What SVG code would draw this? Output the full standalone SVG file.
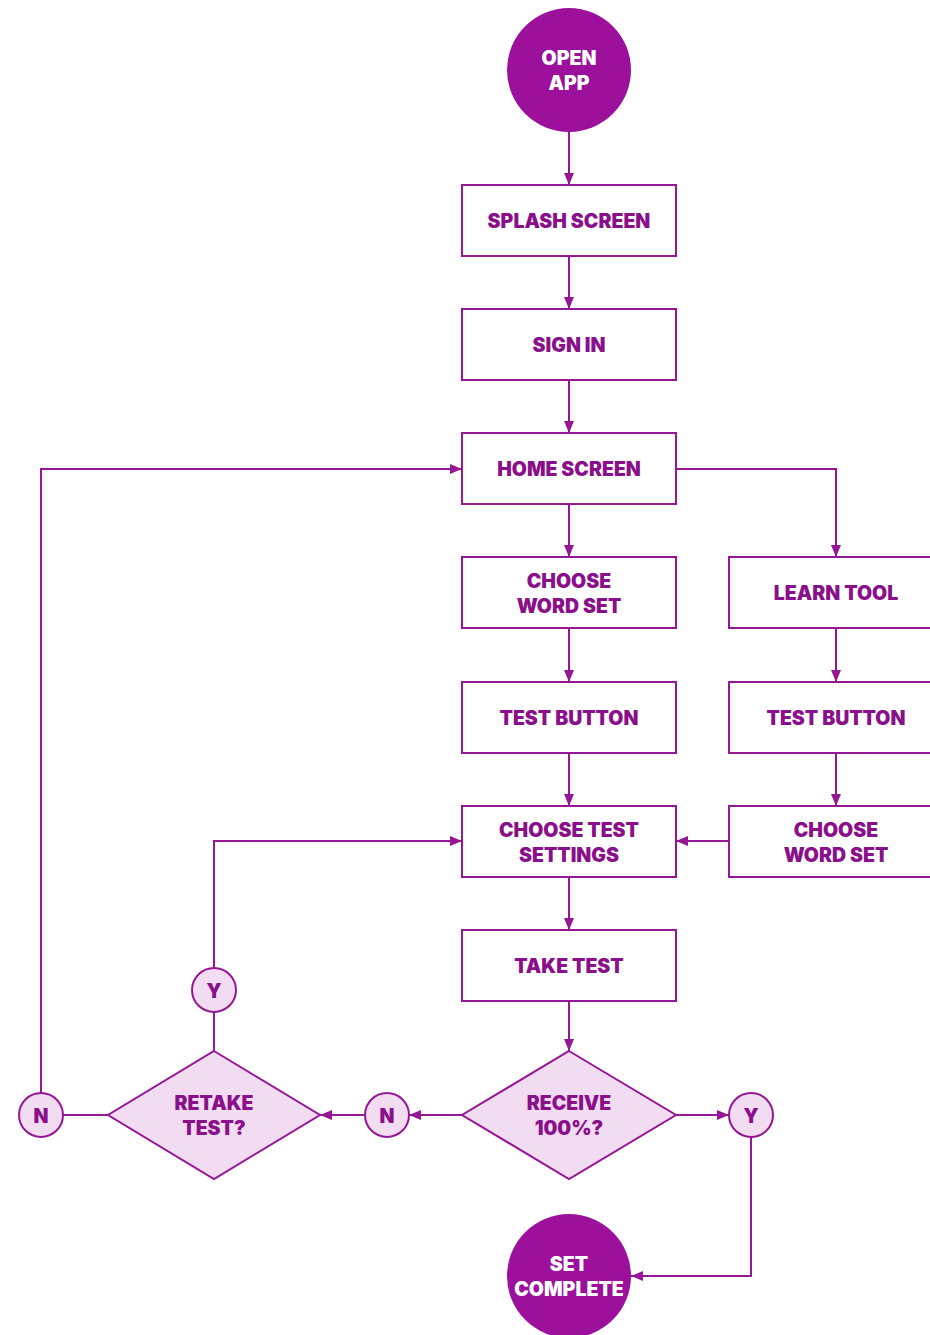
<svg xmlns="http://www.w3.org/2000/svg" width="930" height="1335" viewBox="0 0 930 1335">
<defs>
<marker id="arr" viewBox="0 0 12 10" refX="12" refY="5" markerWidth="12" markerHeight="10" markerUnits="userSpaceOnUse" orient="auto">
<path d="M0,0 L12,5 L0,10 z" fill="#951795"/>
</marker>
<style>
.box{fill:#ffffff;stroke:#951795;stroke-width:2}
.dia{fill:#f1dcf1;stroke:#951795;stroke-width:2}
.term{fill:#9c109c}
.sm{fill:#f1dcf1;stroke:#951795;stroke-width:2}
.t{font-family:Inter,"Open Sans",sans-serif;font-weight:900;font-size:19.5px;fill:#8a0f8a;text-anchor:middle;dominant-baseline:central;letter-spacing:0px}
.tw{fill:#ffffff}
.c{fill:none;stroke:#951795;stroke-width:2}
</style>
</defs>
<rect width="930" height="1335" fill="#ffffff"/>
<g id="connectors">
<path class="c" d="M569,132 V185" marker-end="url(#arr)"/>
<path class="c" d="M569,256 V309" marker-end="url(#arr)"/>
<path class="c" d="M569,380 V433" marker-end="url(#arr)"/>
<path class="c" d="M569,504 V557" marker-end="url(#arr)"/>
<path class="c" d="M569,628 V682" marker-end="url(#arr)"/>
<path class="c" d="M569,753 V806" marker-end="url(#arr)"/>
<path class="c" d="M569,877 V930" marker-end="url(#arr)"/>
<path class="c" d="M569,1001 V1051" marker-end="url(#arr)"/>
<path class="c" d="M676,469 H836 V557" marker-end="url(#arr)"/>
<path class="c" d="M836,628 V682" marker-end="url(#arr)"/>
<path class="c" d="M836,753 V806" marker-end="url(#arr)"/>
<path class="c" d="M729,841 H676" marker-end="url(#arr)"/>
<path class="c" d="M462,1115 H409" marker-end="url(#arr)"/>
<path class="c" d="M365,1115 H320" marker-end="url(#arr)"/>
<path class="c" d="M676,1115 H729" marker-end="url(#arr)"/>
<path class="c" d="M751,1137 V1276 H631" marker-end="url(#arr)"/>
<path class="c" d="M214,1051 V1012"/>
<path class="c" d="M214,968 V841 H462" marker-end="url(#arr)"/>
<path class="c" d="M108,1115 H63"/>
<path class="c" d="M41,1093 V469 H462" marker-end="url(#arr)"/>
</g>
<g id="open-app">
<circle class="term" cx="569" cy="70" r="62"/>
<text class="t tw" x="569" y="58">OPEN</text>
<text class="t tw" x="569" y="83">APP</text>
</g>
<g id="splash-screen">
<rect class="box" x="462" y="185" width="214" height="71"/>
<text class="t" x="569" y="221">SPLASH SCREEN</text>
</g>
<g id="sign-in">
<rect class="box" x="462" y="309" width="214" height="71"/>
<text class="t" x="569" y="345">SIGN IN</text>
</g>
<g id="home-screen">
<rect class="box" x="462" y="433" width="214" height="71"/>
<text class="t" x="569" y="469">HOME SCREEN</text>
</g>
<g id="choose-word-set-1">
<rect class="box" x="462" y="557" width="214" height="71"/>
<text class="t" x="569" y="581">CHOOSE</text>
<text class="t" x="569" y="606">WORD SET</text>
</g>
<g id="learn-tool">
<rect class="box" x="729" y="557" width="214" height="71"/>
<text class="t" x="836" y="593">LEARN TOOL</text>
</g>
<g id="test-button-1">
<rect class="box" x="462" y="682" width="214" height="71"/>
<text class="t" x="569" y="718">TEST BUTTON</text>
</g>
<g id="test-button-2">
<rect class="box" x="729" y="682" width="214" height="71"/>
<text class="t" x="836" y="718">TEST BUTTON</text>
</g>
<g id="choose-test-settings">
<rect class="box" x="462" y="806" width="214" height="71"/>
<text class="t" x="569" y="830">CHOOSE TEST</text>
<text class="t" x="569" y="855">SETTINGS</text>
</g>
<g id="choose-word-set-2">
<rect class="box" x="729" y="806" width="214" height="71"/>
<text class="t" x="836" y="830">CHOOSE</text>
<text class="t" x="836" y="855">WORD SET</text>
</g>
<g id="take-test">
<rect class="box" x="462" y="930" width="214" height="71"/>
<text class="t" x="569" y="966">TAKE TEST</text>
</g>
<g id="receive-100">
<polygon class="dia" points="569,1051 676,1115 569,1179 462,1115"/>
<text class="t" x="569" y="1103">RECEIVE</text>
<text class="t" x="569" y="1128">100%?</text>
</g>
<g id="retake-test">
<polygon class="dia" points="214,1051 320,1115 214,1179 108,1115"/>
<text class="t" x="214" y="1103">RETAKE</text>
<text class="t" x="214" y="1128">TEST?</text>
</g>
<g id="n-right">
<circle class="sm" cx="387" cy="1115" r="22"/>
<text class="t" x="387" y="1116">N</text>
</g>
<g id="n-left">
<circle class="sm" cx="41" cy="1115" r="22"/>
<text class="t" x="41" y="1116">N</text>
</g>
<g id="y-retake">
<circle class="sm" cx="214" cy="990" r="22"/>
<text class="t" x="214" y="991">Y</text>
</g>
<g id="y-receive">
<circle class="sm" cx="751" cy="1115" r="22"/>
<text class="t" x="751" y="1116">Y</text>
</g>
<g id="set-complete">
<circle class="term" cx="569" cy="1276" r="62"/>
<text class="t tw" x="569" y="1264">SET</text>
<text class="t tw" x="569" y="1289">COMPLETE</text>
</g>
</svg>
